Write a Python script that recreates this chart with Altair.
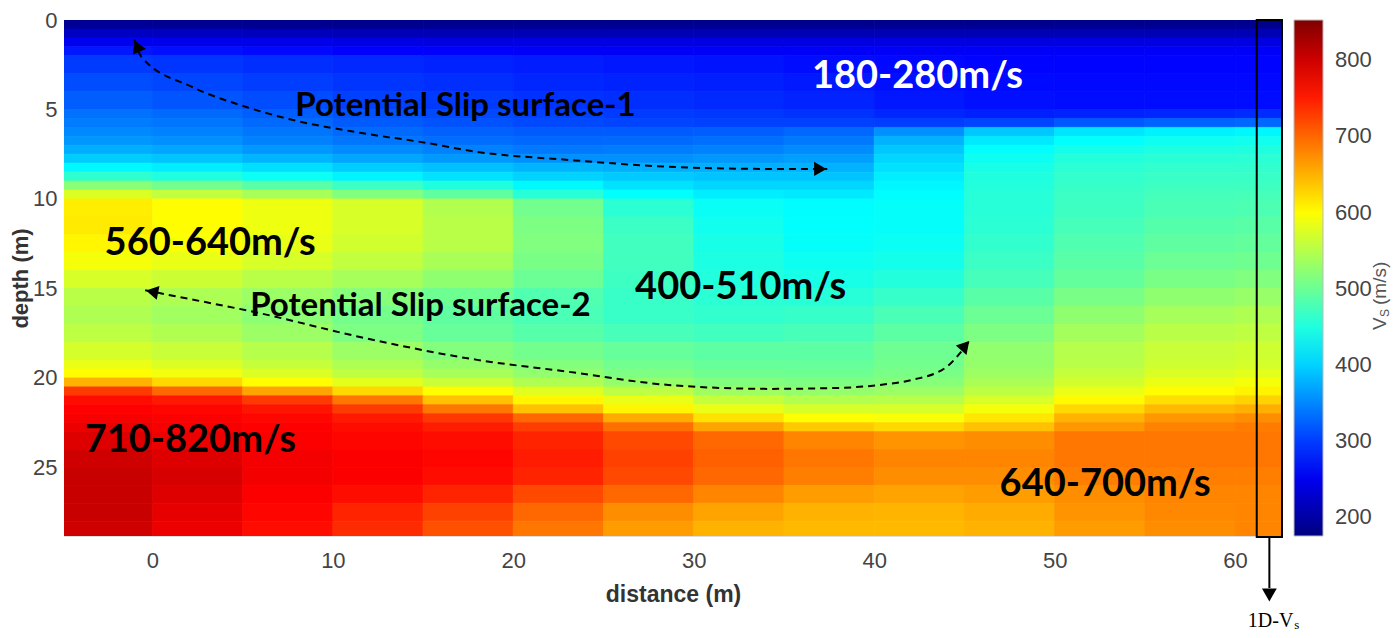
import math
import altair as alt
import pandas as pd

# ---------------- data ----------------
x_edges = [-4.9, 0, 5, 10, 15, 20, 25, 30, 35, 40, 45, 50, 55, 60, 62.6]
depth_edges = [0, 0.5, 1, 1.5, 2, 3, 4, 5, 5.5, 6, 6.5, 7, 7.5, 8, 8.5, 9, 9.5, 10,
               11, 12, 13, 14, 15, 16, 17, 18, 19, 19.5, 20, 20.5, 21, 21.5, 22, 22.5,
               23, 24, 25, 26, 27, 28, 29]
vs_grid = [
    [190, 188, 186, 185, 185, 185, 185, 185, 185, 185, 185, 185, 185, 185],
    [220, 218, 215, 212, 210, 210, 210, 210, 210, 210, 210, 210, 210, 210],
    [250, 248, 245, 242, 240, 240, 240, 240, 240, 240, 240, 240, 240, 240],
    [275, 270, 265, 260, 258, 256, 255, 255, 255, 255, 255, 255, 255, 255],
    [298, 294, 290, 286, 282, 278, 275, 272, 268, 265, 262, 262, 262, 262],
    [310, 306, 300, 295, 290, 285, 282, 280, 276, 270, 266, 265, 265, 265],
    [322, 316, 310, 303, 298, 293, 290, 287, 283, 275, 270, 268, 268, 268],
    [335, 330, 322, 314, 308, 302, 299, 297, 293, 285, 280, 282, 285, 288],
    [342, 338, 330, 320, 314, 308, 305, 303, 302, 300, 305, 318, 325, 328],
    [350, 346, 338, 330, 324, 320, 320, 322, 328, 355, 392, 412, 420, 424],
    [360, 355, 346, 338, 332, 328, 330, 333, 340, 378, 415, 430, 438, 440],
    [375, 370, 360, 352, 345, 340, 342, 346, 352, 392, 430, 442, 448, 450],
    [395, 390, 380, 370, 362, 356, 356, 360, 365, 402, 438, 452, 456, 457],
    [425, 418, 408, 396, 388, 380, 376, 376, 378, 410, 445, 458, 462, 462],
    [460, 450, 436, 422, 410, 400, 394, 390, 390, 418, 450, 462, 466, 466],
    [520, 505, 488, 468, 450, 425, 410, 402, 402, 424, 452, 465, 470, 470],
    [575, 558, 540, 515, 492, 455, 430, 418, 415, 428, 455, 468, 474, 475],
    [610, 600, 588, 572, 548, 505, 458, 435, 428, 432, 455, 470, 478, 480],
    [612, 600, 588, 572, 552, 512, 468, 440, 430, 432, 458, 475, 485, 488],
    [605, 596, 584, 568, 552, 515, 472, 445, 432, 436, 462, 482, 492, 495],
    [592, 584, 572, 558, 542, 510, 472, 448, 438, 442, 468, 488, 500, 503],
    [572, 564, 552, 540, 525, 500, 470, 452, 445, 452, 475, 495, 510, 515],
    [552, 544, 532, 518, 502, 482, 466, 458, 455, 465, 488, 510, 525, 530],
    [545, 536, 522, 506, 492, 478, 466, 462, 465, 478, 500, 525, 540, 545],
    [555, 546, 532, 512, 497, 486, 476, 472, 476, 490, 512, 538, 552, 556],
    [570, 562, 550, 532, 516, 505, 496, 490, 490, 502, 526, 550, 562, 566],
    [585, 575, 560, 544, 528, 516, 504, 497, 496, 505, 528, 552, 566, 570],
    [600, 590, 575, 556, 540, 526, 512, 503, 502, 510, 534, 560, 574, 580],
    [650, 625, 600, 580, 562, 545, 528, 515, 512, 518, 542, 568, 585, 592],
    [730, 700, 660, 625, 600, 578, 555, 535, 528, 532, 555, 585, 600, 606],
    [760, 752, 730, 690, 640, 605, 585, 560, 548, 550, 572, 602, 620, 628],
    [768, 765, 755, 730, 690, 640, 605, 585, 572, 572, 592, 625, 645, 652],
    [772, 768, 764, 752, 732, 700, 655, 618, 598, 595, 615, 650, 668, 675],
    [780, 772, 768, 760, 750, 728, 695, 660, 635, 625, 640, 668, 682, 686],
    [790, 780, 770, 765, 760, 745, 720, 700, 680, 670, 675, 690, 690, 690],
    [800, 790, 775, 770, 765, 750, 725, 705, 690, 680, 680, 690, 690, 690],
    [805, 795, 775, 770, 760, 745, 720, 700, 685, 675, 675, 685, 685, 685],
    [805, 790, 770, 760, 745, 720, 700, 680, 665, 660, 665, 675, 680, 680],
    [805, 785, 765, 745, 725, 700, 675, 660, 650, 648, 655, 670, 678, 680],
    [800, 780, 760, 740, 715, 690, 665, 650, 645, 645, 650, 665, 675, 680],
]

x_ticks = [0, 10, 20, 30, 40, 50, 60]
depth_ticks = [0, 5, 10, 15, 20, 25]
vs_ticks = [200, 300, 400, 500, 600, 700, 800]

slip1_x = [-1.0, -0.6, 2.2, 5.2, 7.8, 11.5, 15.2, 18.0, 23.1, 28.6, 34.2, 37.4]
slip1_d = [1.1, 2.07, 3.74, 4.86, 5.59, 6.3, 6.87, 7.37, 7.82, 8.2, 8.32, 8.32]
slip2_x = [-0.4, 0.9, 5.9, 11.5, 18.0, 23.1, 28.6, 34.2, 37.9, 40.3, 42.1, 44.0, 45.3]
slip2_d = [15.1, 15.36, 16.37, 17.71, 18.99, 19.66, 20.39, 20.61, 20.56, 20.39, 20.11, 19.39, 17.9]

black_labels = ["560-640m/s", "400-510m/s", "710-820m/s", "640-700m/s"]
black_x = [3.2, 32.6, 2.1, 52.8]
black_d = [12.5, 15.0, 23.5, 26.0]
white_labels = ["180-280m/s"]
white_x = [42.4]
white_d = [3.2]
slip_labels = ["Potential Slip surface-1", "Potential Slip surface-2"]
slip_lx = [17.35, 14.85]
slip_ld = [4.8, 16.0]

box_x = [61.2]
box_x2 = [62.6]

# ---------------- layout ----------------
W, H = 1218, 516
X_DOM = [-4.9, 62.6]
D_DOM = [0, 28.83]
PX_X = W / (X_DOM[1] - X_DOM[0])
PX_D = H / (D_DOM[1] - D_DOM[0])

NARROW = "Liberation Sans Narrow, Arial Narrow, Liberation Sans, sans-serif"
LABEL_FONT = "Lato, Open Sans, sans-serif"

# ---------------- tables ----------------
rows = []
for i, row in enumerate(vs_grid):
    for j, v in enumerate(row):
        rows.append({"x": x_edges[j], "x2": x_edges[j + 1],
                     "d": depth_edges[i], "d2": depth_edges[i + 1], "vs": v})
grid_df = pd.DataFrame(rows)

line_rows = []
for k, (xs, ds) in enumerate([(slip1_x, slip1_d), (slip2_x, slip2_d)]):
    for o, (xv, dv) in enumerate(zip(xs, ds)):
        line_rows.append({"arrow": k, "o": o, "x": xv, "d": dv})
line_df = pd.DataFrame(line_rows)

head_rows = []
for xs, ds in [(slip1_x, slip1_d), (slip2_x, slip2_d)]:
    for tip, prev in [(0, 1), (-1, -2)]:
        dxp = (xs[tip] - xs[prev]) * PX_X
        dyp = (ds[tip] - ds[prev]) * PX_D
        n = math.hypot(dxp, dyp)
        ang = math.degrees(math.atan2(dxp, -dyp)) % 360
        back = 7.0
        head_rows.append({"x": xs[tip] - dxp / n * back / PX_X,
                          "d": ds[tip] - dyp / n * back / PX_D,
                          "angle": ang})
head_df = pd.DataFrame(head_rows)

# jet colour map
jet = ["#000080", "#0000FF", "#0080FF", "#00FFFF", "#80FF80",
       "#FFFF00", "#FF8000", "#FF0000", "#800000"]
VMIN, VMAX = 175, 853
stops = [VMIN + (VMAX - VMIN) * k / 8 for k in range(9)]
cscale = alt.Scale(domain=stops, range=jet, interpolate="rgb", clamp=True)

xs_ = alt.Scale(domain=X_DOM, nice=False, zero=False)
ds_ = alt.Scale(domain=D_DOM, nice=False, zero=False, reverse=True)

x_axis = alt.Axis(values=x_ticks, grid=False, ticks=False, tickSize=0, domain=False,
                  labelFont=NARROW, labelFontSize=22, labelColor="#444444",
                  labelPadding=14, titleFont=NARROW, titleFontSize=23,
                  titleFontWeight="bold", titleColor="#333333", titlePadding=12)
y_axis = alt.Axis(values=depth_ticks, grid=False, ticks=False, tickSize=0, domain=False,
                  labelFont=NARROW, labelFontSize=22, labelColor="#444444",
                  labelPadding=7, labelFlush=False, titleFont=NARROW, titleFontSize=22,
                  titleFontWeight="bold", titleColor="#333333", titlePadding=0)

heat = alt.Chart(grid_df).mark_rect(
    strokeWidth=0.8, clip=True,
    stroke=alt.ExprRef(expr="scale('color', datum.vs)"),
).encode(
    x=alt.X("x:Q", scale=xs_, axis=x_axis, title="distance (m)"),
    x2="x2:Q",
    y=alt.Y("d:Q", scale=ds_, axis=y_axis, title="depth (m)"),
    y2="d2:Q",
    color=alt.Color("vs:Q", scale=cscale, title=None,
                    legend=alt.Legend(type="gradient", orient="none", legendX=1230,
                                      legendY=0, direction="vertical", gradientLength=H,
                                      gradientThickness=29, values=vs_ticks,
                                      labelFont=NARROW, labelFontSize=22,
                                      labelColor="#444444", labelOffset=12,
                                      gradientStrokeColor="#bbbbbb",
                                      gradientStrokeWidth=1)),
)

lines = alt.Chart(line_df).mark_line(color="black", strokeWidth=2, strokeDash=[7, 5],
                                     interpolate="monotone").encode(
    x="x:Q", y="d:Q", detail="arrow:N", order="o:Q")

heads = alt.Chart(head_df).mark_point(shape="triangle-up", filled=True, color="black",
                                      size=200, opacity=1).encode(
    x="x:Q", y="d:Q", angle=alt.Angle("angle:Q", scale=None))

black_df = pd.DataFrame({"t": black_labels, "x": black_x, "d": black_d})
white_df = pd.DataFrame({"t": white_labels, "x": white_x, "d": white_d})
slip_df = pd.DataFrame({"t": slip_labels, "x": slip_lx, "d": slip_ld})

t_black = alt.Chart(black_df).mark_text(font=LABEL_FONT, fontSize=38, fontWeight="bold",
                                        color="black", baseline="middle").encode(
    x="x:Q", y="d:Q", text="t:N")
t_white = alt.Chart(white_df).mark_text(font=LABEL_FONT, fontSize=38, fontWeight="bold",
                                        color="white", baseline="middle").encode(
    x="x:Q", y="d:Q", text="t:N")
t_slip = alt.Chart(slip_df).mark_text(font=LABEL_FONT, fontSize=33, fontWeight="bold",
                                      color="black", baseline="middle").encode(
    x="x:Q", y="d:Q", text="t:N")

box_df = pd.DataFrame({"x": box_x, "x2": box_x2})
box = alt.Chart(box_df).mark_rect(filled=False, stroke="black", strokeWidth=2).encode(
    x="x:Q", x2="x2:Q", y=alt.value(0), y2=alt.value(H + 1))

box_mid = (box_x[0] + box_x2[0]) / 2
mid_df = pd.DataFrame({"x": [box_mid]})
down_rule = alt.Chart(mid_df).mark_rule(color="black", strokeWidth=2).encode(
    x="x:Q", y=alt.value(H + 1), y2=alt.value(H + 52))
down_head = alt.Chart(mid_df).mark_point(shape="triangle-down", filled=True, color="black",
                                         size=220, opacity=1).encode(
    x="x:Q", y=alt.value(H + 59))
lab_main = alt.Chart(mid_df).mark_text(font="Liberation Serif", fontSize=20, color="black",
                                       align="right", baseline="middle", dx=24).encode(
    x="x:Q", y=alt.value(H + 85), text=alt.value("1D-V"))
lab_sub = alt.Chart(mid_df).mark_text(font="Liberation Serif", fontSize=13, color="black",
                                      align="left", baseline="middle", dx=25, dy=4).encode(
    x="x:Q", y=alt.value(H + 85), text=alt.value("s"))

# colour-bar title  V_S (m/s), rotated
cb_df = pd.DataFrame({"k": [0]})
cb_v = alt.Chart(cb_df).mark_text(font="Liberation Sans", fontSize=19, color="#555555",
                                  angle=270, align="left", baseline="middle").encode(
    x=alt.value(1316), y=alt.value(310), text=alt.value("V"))
cb_s = alt.Chart(cb_df).mark_text(font="Liberation Sans", fontSize=12, color="#555555",
                                  angle=270, align="left", baseline="middle").encode(
    x=alt.value(1321), y=alt.value(297), text=alt.value("S"))
cb_u = alt.Chart(cb_df).mark_text(font="Liberation Sans", fontSize=19, color="#555555",
                                  angle=270, align="left", baseline="middle").encode(
    x=alt.value(1316), y=alt.value(285), text=alt.value("(m/s)"))

chart = alt.layer(
    heat, lines, heads, t_black, t_white, t_slip, box, down_rule, down_head,
    lab_main, lab_sub, cb_v, cb_s, cb_u
).properties(
    width=W, height=H,
    autosize=alt.AutoSizeParams(type="none"),
    padding={"left": 64, "top": 20, "right": 1398 - 64 - W, "bottom": 638 - 20 - H},
).configure_view(stroke="#cccccc", strokeWidth=1).configure(background="white")

chart.save("out.html", embed_options={"renderer": "svg", "actions": False})
